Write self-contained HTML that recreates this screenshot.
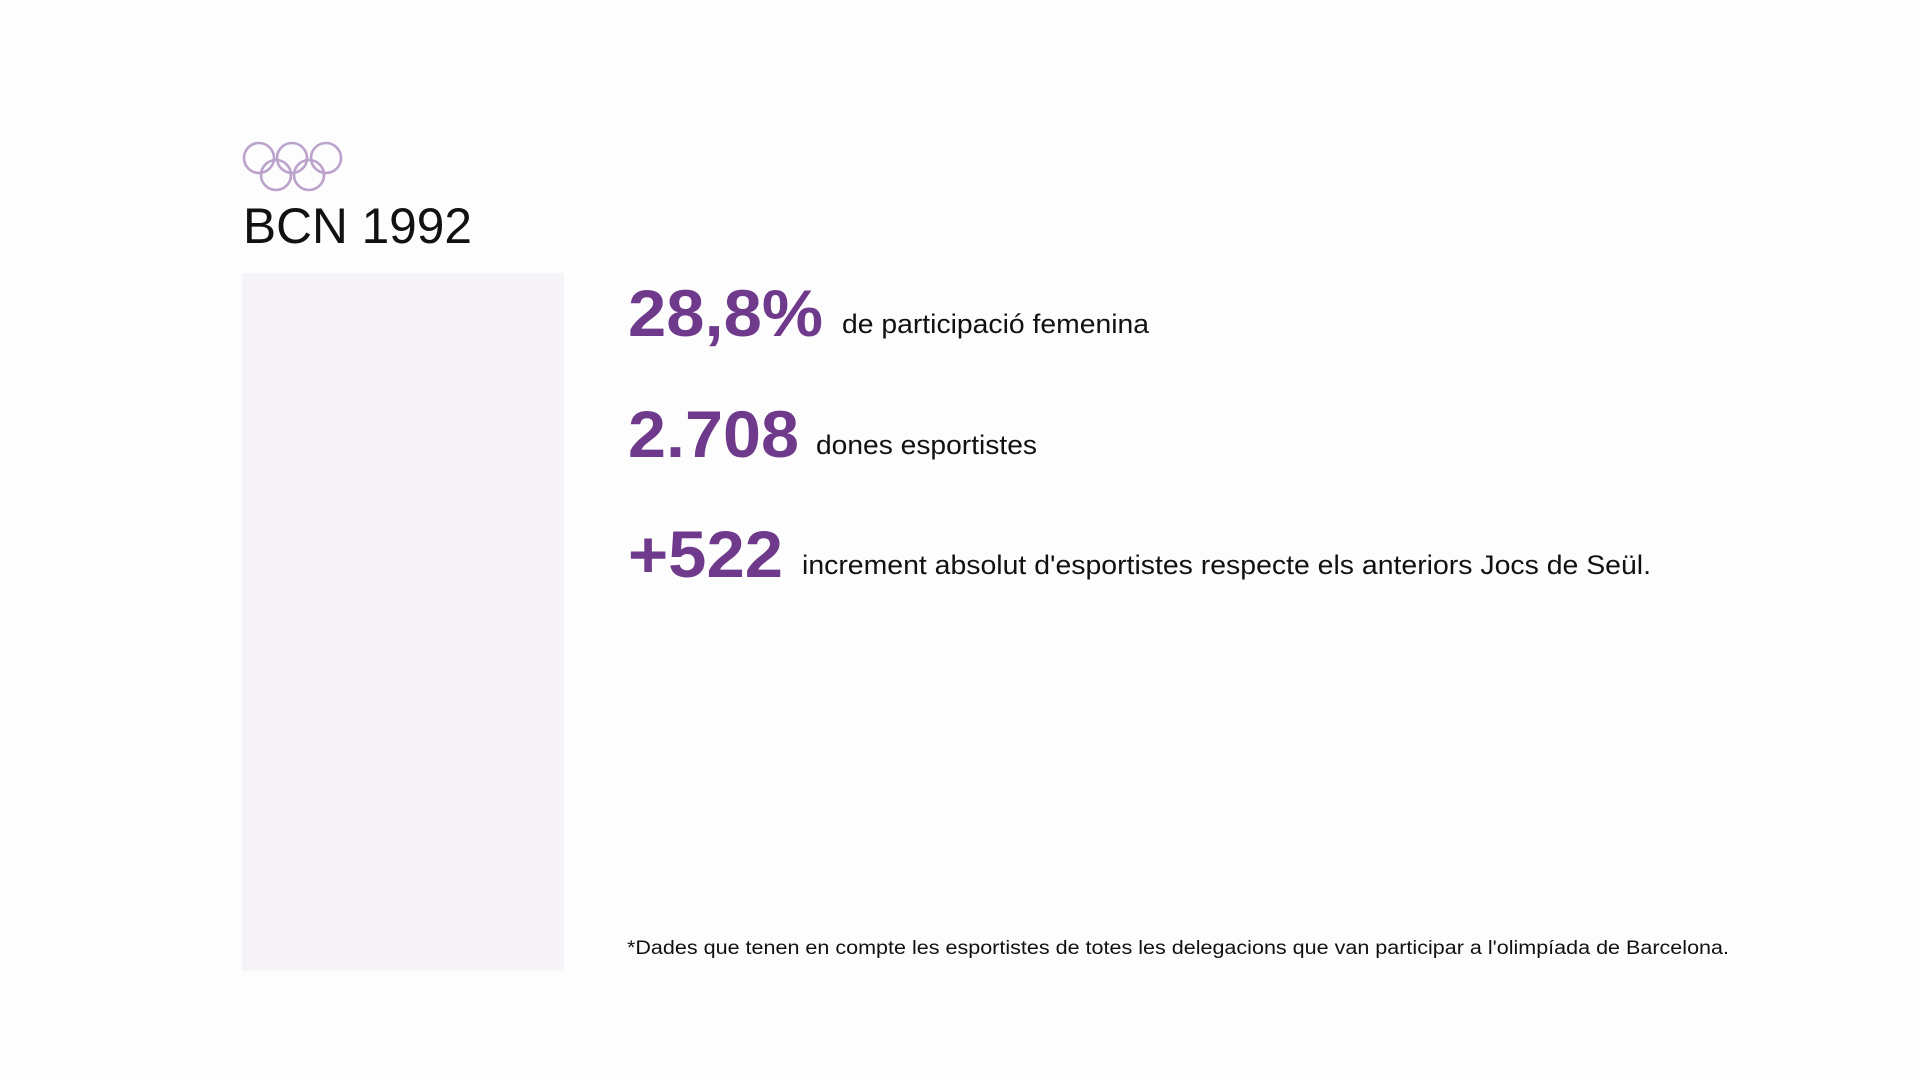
<!DOCTYPE html>
<html><head><meta charset="utf-8"><style>
html,body{margin:0;padding:0;background:#fefdfe;}
svg{display:block}
</style></head><body>
<svg width="1920" height="1080" viewBox="0 0 1920 1080" font-family="'Liberation Sans', sans-serif">
  <rect x="0" y="0" width="1920" height="1080" fill="#fefdfe"/>
  <g fill="none" stroke="#bba3cc" stroke-width="2.6">
    <circle cx="259" cy="158" r="15"/>
    <circle cx="292" cy="158" r="15"/>
    <circle cx="326" cy="158" r="15"/>
    <circle cx="276" cy="175" r="15"/>
    <circle cx="309" cy="175" r="15"/>
  </g>
  <text x="243" y="243" font-size="50" fill="#111" textLength="229" lengthAdjust="spacingAndGlyphs">BCN 1992</text>
  <rect x="242" y="273" width="322" height="698" fill="#f7f4f9"/>
  <g fill="#6f3a8c" font-weight="bold" font-size="66">
    <text x="628" y="336" textLength="195" lengthAdjust="spacingAndGlyphs">28,8%</text>
    <text x="628" y="457" textLength="171" lengthAdjust="spacingAndGlyphs">2.708</text>
    <text x="628" y="577" textLength="155" lengthAdjust="spacingAndGlyphs">+522</text>
  </g>
  <g fill="#111" font-size="27">
    <text x="842" y="333" textLength="307" lengthAdjust="spacingAndGlyphs">de participació femenina</text>
    <text x="816" y="454" textLength="221" lengthAdjust="spacingAndGlyphs">dones esportistes</text>
    <text x="802" y="574" textLength="849" lengthAdjust="spacingAndGlyphs">increment absolut d'esportistes respecte els anteriors Jocs de Seül.</text>
  </g>
  <text x="627" y="954" font-size="19" fill="#111" textLength="1102" lengthAdjust="spacingAndGlyphs">*Dades que tenen en compte les esportistes de totes les delegacions que van participar a l'olimpíada de Barcelona.</text>
</svg>
</body></html>
